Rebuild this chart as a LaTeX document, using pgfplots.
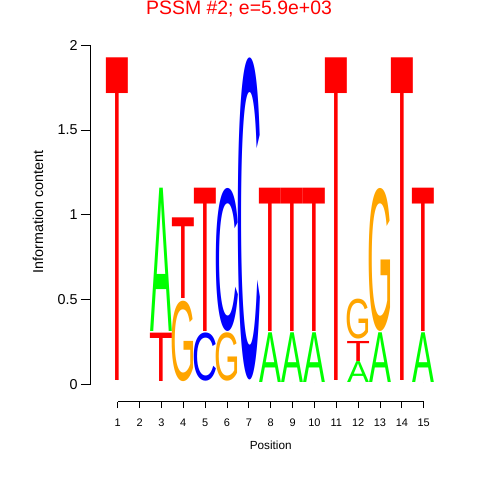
\documentclass[border=0pt]{standalone}
\usepackage{pgfplots}
\pgfplotsset{compat=1.18}
\usepackage{pgfplotstable}
\usepackage{graphicx}
\usepackage{fontspec}
\setmainfont{Liberation Sans}

\definecolor{logoA}{RGB}{0,255,0}
\definecolor{logoC}{RGB}{0,0,255}
\definecolor{logoG}{RGB}{255,165,0}
\definecolor{logoT}{RGB}{255,0,0}

% x = position, y = bottom of letter, h = letter height (bits)
\pgfplotstableread{
x y h
3 0.315 0.844
8 0.012 0.293
9 0.012 0.293
10 0.012 0.293
12 0.011 0.123
13 0.012 0.293
15 0.012 0.293
}\dataA
\pgfplotstableread{
x y h
5 0.017 0.285
6 0.315 0.844
7 0.026 1.90
}\dataC
\pgfplotstableread{
x y h
4 0.017 0.475
6 0.017 0.286
12 0.266 0.236
13 0.315 0.844
}\dataG
\pgfplotstableread{
x y h
1 0.026 1.90
3 0.017 0.285
4 0.504 0.475
5 0.315 0.844
8 0.315 0.844
9 0.315 0.844
10 0.315 0.844
11 0.026 1.90
12 0.138 0.118
14 0.026 1.90
15 0.315 0.844
}\dataT

\pgfplotsset{
  logo/.style n args={4}{%
    only marks, mark=*, mark size=0pt, mark options={draw=none,fill=none},
    visualization depends on={\thisrow{h} \as \hh},
    nodes near coords={\pgfmathsetlengthmacro\hgt{\hh*170.35*#4}\resizebox{#3}{\hgt}{#1}},
    every node near coord/.style={anchor=south, inner sep=0pt, outer sep=0pt, text=#2},
  },
}

\begin{document}
\begin{tikzpicture}
\useasboundingbox (-90.7bp,-78.3bp) rectangle (389.3bp,401.7bp);
\begin{axis}[
  at={(0,0)}, anchor=south west, scale only axis,
  width=360bp, height=356.7bp,
  xmin=-0.235, xmax=16.235, ymin=-0.1013, ymax=2,
  clip=false,
  axis x line*=bottom, axis y line*=left,
  axis line style={draw=none},
  tick align=outside,
  xtick={1,...,15}, ytick={0,0.5,1,1.5,2},
  minor tick num=0,
  major tick length=9.7bp,
  xtick style={/pgfplots/major tick length=6.5bp},
  tick style={black, line width=0.75bp},
  /pgf/number format/assume math mode=true,
  xticklabel style={font=\fontsize{11}{11}\selectfont, yshift=-4bp},
  yticklabel style={font=\fontsize{14.4}{14.4}\selectfont},
  xlabel={Position},
  xlabel style={font=\fontsize{11.8}{11.8}\selectfont, at={(axis description cs:0.5,0)}, anchor=base, yshift=-47.3bp},
  ylabel={Information content},
  ylabel style={font=\fontsize{14.4}{14.4}\selectfont, at={(axis description cs:-0.1464,0.532)}, anchor=center},
  every axis title shift=0pt,
  title={PSSM \#2; e=5.9e+03},
  title style={text=red, font=\fontsize{19.5}{19.5}\selectfont, at={(axis description cs:0.412,1.085)}, anchor=base},
]
\addplot[logo={A}{logoA}{21.9bp}{1}] table {\dataA};
\addplot[logo={C}{logoC}{25.2bp}{0.983}] table {\dataC};
\addplot[logo={G}{logoG}{25.5bp}{0.983}] table {\dataG};
\addplot[logo={T}{logoT}{23.7bp}{1}] table {\dataT};
\draw[line width=0.75bp] (axis cs:-0.235,0) -- (axis cs:-0.235,2);
\draw[line width=0.75bp] (axis cs:1,-0.1013) -- (axis cs:15,-0.1013);
\end{axis}
\end{tikzpicture}
\end{document}
